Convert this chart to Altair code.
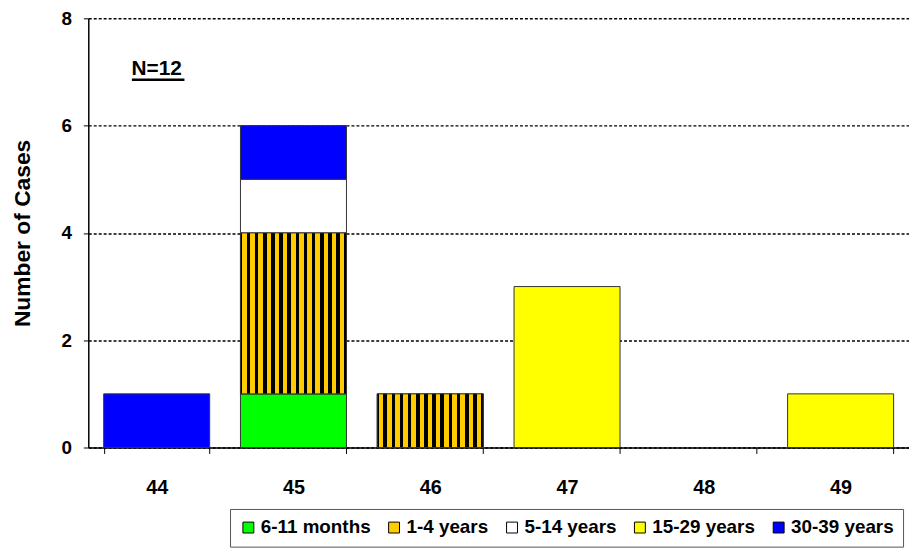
import altair as alt
import pandas as pd

weeks = ["44", "45", "46", "47", "48", "49"]
groups = ["6-11 months", "1-4 years", "5-14 years", "15-29 years", "30-39 years"]
colors = ["#00FF00", "#FFCC00", "#FFFFFF", "#FFFF00", "#0000FF"]

rec_week = ["44", "45", "45", "45", "45", "46", "47", "49"]
rec_group = ["30-39 years", "6-11 months", "1-4 years", "5-14 years",
             "30-39 years", "1-4 years", "15-29 years", "15-29 years"]
rec_count = [1, 1, 3, 1, 1, 1, 3, 1]

df = pd.DataFrame({"week": rec_week, "group": rec_group, "count": rec_count})
df["order"] = df["group"].map(groups.index)

FONT = "Liberation Sans"

# striped fill for "1-4 years"
n = 13
stops = []
for i in range(n):
    a = i / n
    stops += [
        alt.GradientStop(color="#000000", offset=a),
        alt.GradientStop(color="#000000", offset=a + 0.2 / n),
        alt.GradientStop(color="#FFCC00", offset=a + 0.2 / n),
        alt.GradientStop(color="#FFCC00", offset=a + 0.75 / n),
        alt.GradientStop(color="#000000", offset=a + 0.75 / n),
        alt.GradientStop(color="#000000", offset=(i + 1) / n),
    ]
stripe = alt.LinearGradient(gradient="linear", stops=stops, x1=0, x2=1, y1=0, y2=0)

xscale = alt.Scale(domain=weeks, paddingInner=0.225, paddingOuter=0.1125)
yscale = alt.Scale(domain=[0, 8], nice=False)

base = alt.Chart(df).transform_stack(
    stack="count", groupby=["week"],
    sort=[alt.SortField("order", order="ascending")],
    as_=["y0", "y1"],
)

bars = base.mark_bar(stroke="#333333", strokeWidth=1).encode(
    x=alt.X("week:N", scale=xscale,
            axis=alt.Axis(title=None, labelAngle=0, tickBand="extent", tickSize=6,
                          labelPadding=24, labelFont=FONT, labelFontSize=20,
                          labelFontWeight="bold", labelColor="black",
                          domainColor="black", domainWidth=1.5, tickColor="black",
                          grid=False)),
    y=alt.Y("y0:Q", scale=yscale,
            axis=alt.Axis(title="Number of Cases", values=[0, 2, 4, 6, 8], tickSize=5,
                          labelPadding=12, labelFont=FONT, labelFontSize=19,
                          labelFontWeight="bold", labelColor="black",
                          titleFont=FONT, titleFontSize=23, titleFontWeight="bold",
                          titleColor="black", titlePadding=27,
                          domainColor="black", domainWidth=1.5, tickColor="black",
                          grid=True, gridColor="black", gridDash=[3, 2], gridWidth=1.5)),
    y2="y1:Q",
    fill=alt.Fill("group:N", scale=alt.Scale(domain=groups, range=colors),
                  legend=alt.Legend(title=None, orient="none", direction="horizontal",
                                    legendX=143, legendY=495,
                                    symbolType="square", symbolSize=121,
                                    symbolStrokeColor="black", symbolStrokeWidth=1,
                                    labelFont=FONT, labelFontSize=19,
                                    labelFontWeight="bold", labelColor="black",
                                    columnPadding=14, labelOffset=3,
                                    strokeColor="#555555", fillColor="white",
                                    padding=9)),
)

stripes = base.transform_filter(alt.datum.group == "1-4 years").mark_bar(
    fill=stripe, stroke="#333333", strokeWidth=1
).encode(
    x=alt.X("week:N", scale=xscale),
    y=alt.Y("y0:Q", scale=yscale),
    y2="y1:Q",
)

note_df = pd.DataFrame({"week": ["44"], "y": [7], "t": ["N=12"]})
note = alt.Chart(note_df).mark_text(
    font=FONT, fontSize=21, fontWeight="bold", color="black", dy=-3
).encode(x=alt.X("week:N", scale=xscale), y=alt.Y("y:Q", scale=yscale), text="t:N")

underline = alt.Chart(note_df).mark_rule(color="black", strokeWidth=2.5).encode(
    x=alt.value(44), x2=alt.value(97), y=alt.value(62)
)

chart = alt.layer(bars, stripes, note, underline).properties(
    width=828, height=433,
    autosize=alt.AutoSizeParams(type="none"),
    padding={"left": 81, "top": 8, "right": 0, "bottom": 103},
).configure_view(stroke=None)

chart.save("out.html", embed_options={"renderer": "svg", "actions": False})
